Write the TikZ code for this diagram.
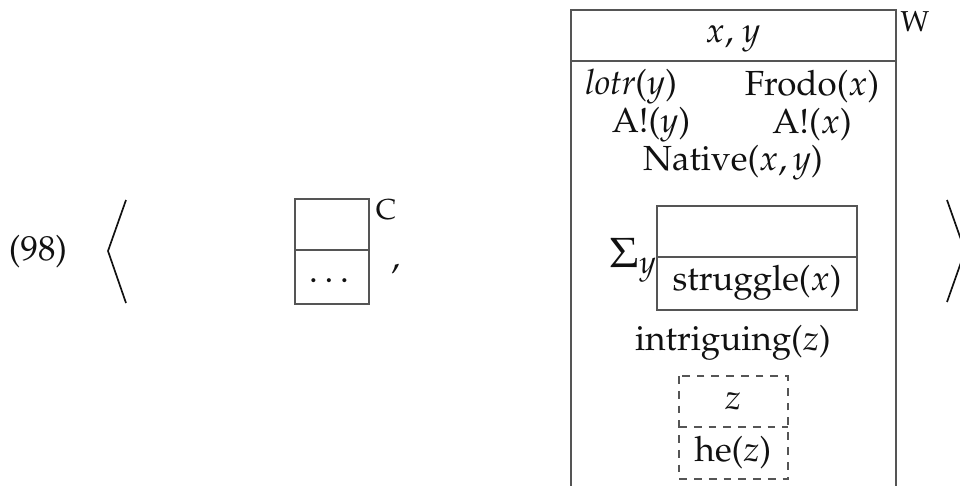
\documentclass[tikz,border=0pt]{standalone}
\usepackage[T1]{fontenc}
\usepackage{mathpazo}
\usepackage{xcolor}
\usepackage{tikz}
\usetikzlibrary{positioning}
\definecolor{inkBlack}{HTML}{111111}
\definecolor{ruleGray}{HTML}{555555}

\begin{document}
\begin{tikzpicture}[
  x=0.025cm, y=-0.025cm,
  font=\fontsize{24.8}{30}\selectfont,
  txt/.style={inner sep=0pt, text=inkBlack},
  tag/.style={inner sep=0pt, text=inkBlack, font=\fontsize{20.5}{24}\selectfont},
  drs/.style={draw=ruleGray, line width=0.75pt},
  drsdash/.style={drs, dash pattern=on 5.5pt off 5pt},
  brack/.style={draw=inkBlack, line width=1.2pt}
]
\useasboundingbox (0,0) rectangle (960,486);
\clip (0,0) rectangle (960,486);

% ---------- EXAMPLE NUMBER + BRACKETS ----------
\node[txt] (num) at (38,252) {(98)};
\draw[brack] (126,200) -- (108,251) -- (126,303);
\draw[brack] (947,200) -- (965,251) -- (947,302);

% ---------- CONTEXT BOX C ----------
\draw[drs] (295,199) rectangle (369,304);
\draw[drs] (295,250) -- (369,250);
\node[txt] (dots) at (329,281) {$\dots$};
\node[tag] (lblC) at (386,210) {C};
\node[txt, anchor=base west] (comma) at (391,268) {,};

% ---------- WORLD BOX W ----------
\draw[drs] (571,10) rectangle (896,520);
\draw[drs] (571,61) -- (896,61);
\node[tag] (lblW) at (915,22) {W};
\node[txt] (univ) at (733,39) {$x$, $y$};

\node[txt] (lotr) at (631,87) {\textit{lotr}($y$)};
\node[txt] (frodo) at (812,87) {Frodo($x$)};
\node[txt] (ay) at (651,125) {A!($y$)};
\node[txt] (ax) at (812,125) {A!($x$)};
\node[txt] (native) at (733,163) {Native($x,y$)};

% sum box
\draw[drs] (657,206) rectangle (857,310);
\draw[drs] (657,257) -- (857,257);
\node[txt, anchor=base east, font=\fontsize{30}{36}\selectfont] (sigma) at (657,267) {$\Sigma_y$};
\node[txt] (strug) at (757,283) {struggle($x$)};

\node[txt] (intr) at (733,343) {intriguing($z$)};

% presupposed box
\draw[drsdash] (679,376) rectangle (788,479);
\draw[drsdash] (679,427) -- (788,427);
\node[txt] (zref) at (733,401) {$z$};
\node[txt] (he) at (733,453) {he($z$)};

\end{tikzpicture}
\end{document}
